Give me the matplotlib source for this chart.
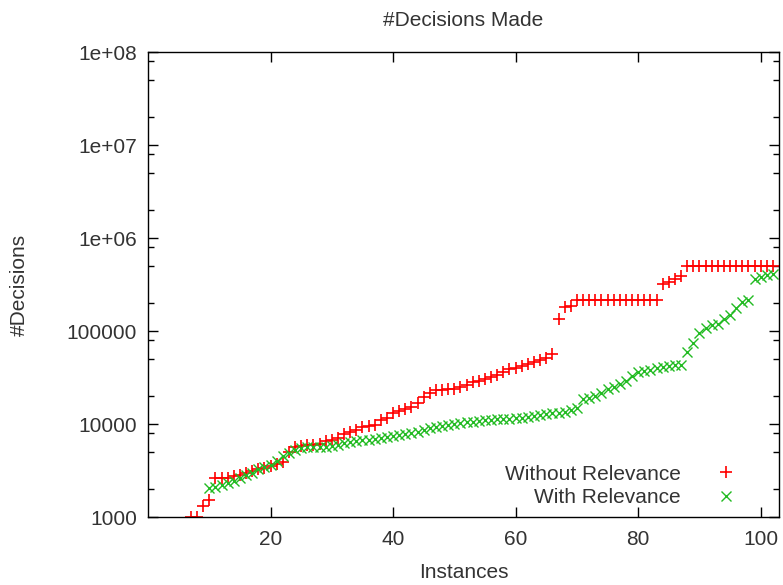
import matplotlib
matplotlib.use("Agg")
import matplotlib.pyplot as plt
from matplotlib.ticker import FixedLocator, NullFormatter

plt.rcParams['font.family'] = ['Liberation Sans', 'DejaVu Sans']

# instances (sorted), only those with >= 1000 decisions are visible
without_x = list(range(7, 103))
without_rel = [1000, 1000, 1300, 1520, 2600, 2600, 2600, 2750, 2850, 3000,
               3100, 3250, 3400, 3500, 3700, 3950, 5000, 5600, 5800, 5900,
               6000, 6100, 6500, 6700, 7000, 7900, 8300, 8600, 9200, 9500,
               9800, 11000, 11700, 13200, 13900, 14400, 15400, 16700, 19700, 21700,
               23200, 23300, 23600, 23700, 24800, 26200, 28500, 29200, 30300, 32300,
               33600, 36500, 38700, 39600, 41900, 44700, 46600, 49000, 51000, 56000,
               135000, 180000, 185000] + [215000] * 14 + \
              [320000, 335000, 360000, 390000] + [500000] * 15

with_x = list(range(10, 103))
with_rel = [2040, 2100, 2200, 2300, 2450, 2600, 2800, 3000, 3250, 3450,
            3650, 4000, 4500, 4900, 5300, 5500, 5600, 5600, 5700, 5700,
            5800, 5900, 6200, 6400, 6600, 6700, 6800, 6900, 7000, 7200,
            7500, 7700, 7800, 8100, 8300, 8700, 9000, 9300, 9500, 9800,
            10000, 10200, 10400, 10600, 10800, 11000, 11100, 11200, 11300, 11400,
            11500, 11700, 12000, 12300, 12600, 12900, 13100, 13300, 13600, 14000,
            15000, 18500, 19000, 20000, 21500, 24000, 25000, 27000, 29000, 33000,
            36000, 37000, 38500, 40000, 41000, 42000, 43000, 43500, 60000, 74000,
            95000, 107000, 116000, 120000, 135000, 150000, 175000, 205000, 215000, 360000,
            385000, 400000, 410000]

xticks = [20, 40, 60, 80, 100]
yticks = [1e3, 1e4, 1e5, 1e6, 1e7, 1e8]
ytick_labels = ["1000", "10000", "100000", "1e+06", "1e+07", "1e+08"]

fs = 15
txt = '#333333'

fig = plt.figure(figsize=(7.83, 5.85), dpi=100)
ax = fig.add_axes([0.189, 0.1162, 0.806, 0.7949])

ax.plot(without_x, without_rel, linestyle='none', marker='+', color='#ff0000',
        markersize=8, markeredgewidth=1.2, label='Without Relevance')
ax.plot(with_x, with_rel, linestyle='none', marker='x', color='#22bb22',
        markersize=7, markeredgewidth=1.0, label='With Relevance')

ax.set_yscale('log')
ax.set_xlim(0, 103)
ax.set_ylim(1e3, 1e8)
ax.set_xticks(xticks)
ax.set_yticks(yticks)
ax.set_yticklabels(ytick_labels)
minors = [m * 10 ** e for e in range(3, 8) for m in (2, 5, 8)]
ax.yaxis.set_minor_locator(FixedLocator(minors))
ax.yaxis.set_minor_formatter(NullFormatter())
ax.tick_params(which='both', direction='in', top=True, right=True,
               labelsize=fs, labelcolor=txt)
ax.tick_params(axis='x', pad=9.5)
ax.tick_params(axis='y', pad=8)
ax.tick_params(which='major', length=7, width=1)
ax.tick_params(which='minor', length=4, width=1)
for s in ax.spines.values():
    s.set_linewidth(1)

ax.set_title('#Decisions Made', fontsize=fs, pad=19, color=txt)
ax.set_xlabel('Instances', fontsize=fs, labelpad=10, color=txt)
ax.set_ylabel('#Decisions', fontsize=fs, labelpad=27, color=txt)

ax.legend(loc='lower right', bbox_to_anchor=(0.933, 0.021), markerfirst=False,
          frameon=False, fontsize=fs, borderpad=0, borderaxespad=0,
          handlelength=1, handletextpad=1.7, labelspacing=0.22,
          labelcolor=txt)

fig.savefig('out.png', dpi=100)
